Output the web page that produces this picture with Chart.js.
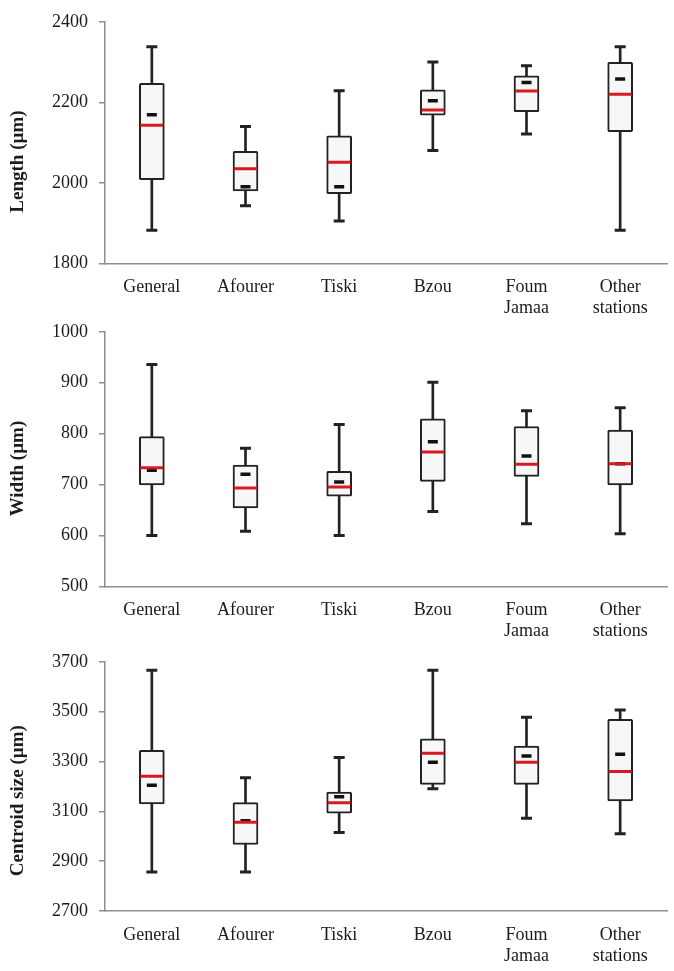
<!DOCTYPE html>
<html>
<head>
<meta charset="utf-8">
<script src="https://cdn.jsdelivr.net/npm/chart.js@4.4.1/dist/chart.umd.min.js"></script>
<style>
  body { margin: 0; background: #fff; }
  #wrap { position: relative; width: 674px; height: 971px; overflow: hidden; }
  canvas { position: absolute; left: 0; }
</style>
</head>
<body>
<div id="wrap">
  <canvas id="lenChart" width="674" height="330" style="top:0px"></canvas>
  <canvas id="widChart" width="674" height="330" style="top:310px"></canvas>
  <canvas id="csChart" width="674" height="331" style="top:640px"></canvas>
</div>
<script>
const categories = ['General', 'Afourer', 'Tiski', 'Bzou', ['Foum', 'Jamaa'], ['Other', 'stations']];

// Length (µm)
const lenMin    = [1882, 1943, 1905, 2080, 2121, 1882];
const lenQ1     = [2008, 1980, 1973, 2168, 2177, 2127];
const lenMedian = [2143, 2035, 2051, 2181, 2228, 2220];
const lenQ3     = [2247, 2078, 2117, 2231, 2266, 2299];
const lenMax    = [2338, 2140, 2229, 2300, 2291, 2338];
const lenMean   = [2169, 1990, 1990, 2204, 2249, 2258];

// Width (µm)
const widMin    = [600, 608, 600, 647, 623, 603];
const widQ1     = [699, 654, 677, 706, 716, 699];
const widMedian = [733, 693, 695, 764, 740, 741];
const widQ3     = [794, 738, 726, 829, 814, 807];
const widMax    = [936, 771, 818, 901, 845, 851];
const widMean   = [728, 720, 705, 784, 756, 741];

// Centroid size (µm)
const csMin    = [2857, 2857, 3015, 3191, 3072, 3010];
const csQ1     = [3130, 2967, 3093, 3208, 3208, 3142];
const csMedian = [3241, 3056, 3134, 3333, 3297, 3260];
const csQ3     = [3345, 3135, 3177, 3391, 3362, 3469];
const csMax    = [3666, 3235, 3316, 3666, 3477, 3507];
const csMean   = [3205, 3062, 3158, 3297, 3322, 3329];

const serif = "'Liberation Serif', 'Times New Roman', serif";
const axisGrey = '#8e8e8e';
const ink = '#1c1c1c';

function pointSet(data, color, radius, width, order) {
  return {
    type: 'line',
    data: data,
    showLine: false,
    pointStyle: 'line',
    pointRadius: radius,
    pointHoverRadius: radius,
    pointBorderColor: color,
    pointBorderWidth: width,
    order: order
  };
}

function boxChart(id, s, yMin, yMax, step, title, padTop, xHeight) {
  const ctx = document.getElementById(id).getContext('2d');
  new Chart(ctx, {
    type: 'bar',
    data: {
      labels: categories,
      datasets: [
        { // whisker
          data: s.min.map((v, i) => [v, s.max[i]]),
          backgroundColor: '#222',
          barThickness: 2,
          grouped: false,
          order: 5
        },
        { // box
          data: s.q1.map((v, i) => [v, s.q3[i]]),
          backgroundColor: '#f7f7f7',
          borderColor: '#222',
          borderWidth: 2,
          borderSkipped: false,
          borderRadius: 1.5,
          barThickness: 25,
          grouped: false,
          order: 4
        },
        pointSet(s.min, '#222', 5.5, 3, 3),
        pointSet(s.max, '#222', 5.5, 3, 3),
        pointSet(s.mean, '#111', 5, 3.5, 2),
        pointSet(s.median, '#d71920', 11.5, 3, 1)
      ]
    },
    options: {
      responsive: false,
      animation: false,
      layout: { autoPadding: false, padding: { top: padTop, right: 7, left: 0, bottom: 0 } },
      plugins: { legend: { display: false }, tooltip: { enabled: false } },
      scales: {
        x: {
          grid: { display: false, drawTicks: false },
          border: { display: true, color: axisGrey, width: 1.5 },
          ticks: { color: ink, padding: 13, font: { family: serif, size: 18 } },
          afterFit: (scale) => {
            scale.height = xHeight;
            scale.paddingLeft = 0;
            scale.paddingRight = 0;
          }
        },
        y: {
          min: yMin,
          max: yMax,
          ticks: {
            stepSize: step,
            color: ink,
            padding: 11,
            font: { family: serif, size: 18 },
            callback: (v) => String(v)
          },
          grid: { drawOnChartArea: false, drawTicks: true, tickLength: 6, color: axisGrey, lineWidth: 1.5 },
          border: { display: true, color: axisGrey, width: 1.5 },
          title: {
            display: true,
            text: title,
            color: ink,
            padding: { top: 7, bottom: 4 },
            font: { family: serif, size: 19, weight: 'bold' }
          },
          afterFit: (scale) => { scale.width = 105; }
        }
      }
    }
  });
}

boxChart('lenChart',
  { min: lenMin, q1: lenQ1, median: lenMedian, q3: lenQ3, max: lenMax, mean: lenMean },
  1800, 2400, 200, 'Length (µm)' + '        ', 19, 66.7);

boxChart('widChart',
  { min: widMin, q1: widQ1, median: widMedian, q3: widQ3, max: widMax, mean: widMean },
  500, 1000, 100, 'Width (µm)' + '    ', 19.7, 53.7);

boxChart('csChart',
  { min: csMin, q1: csQ1, median: csMedian, q3: csQ3, max: csMax, mean: csMean },
  2700, 3700, 200, 'Centroid size (µm)' + '      ', 17.3, 60);
</script>
</body>
</html>
